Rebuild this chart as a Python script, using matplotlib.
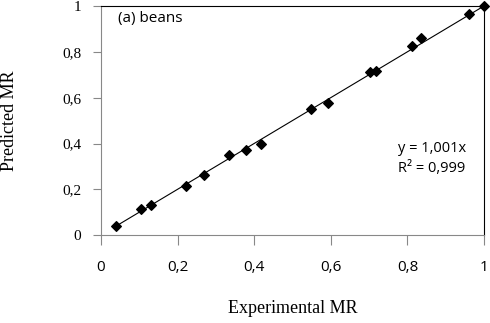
import matplotlib
matplotlib.use("Agg")
import matplotlib.pyplot as plt
import numpy as np

# experimental vs predicted moisture ratio
exp_mr = [0.04, 0.104, 0.13, 0.222, 0.269, 0.334, 0.379, 0.418, 0.548,
          0.593, 0.702, 0.718, 0.812, 0.836, 0.961, 1.0]
pred_mr = [0.04, 0.114, 0.131, 0.214, 0.262, 0.349, 0.371, 0.397, 0.550,
           0.576, 0.712, 0.716, 0.825, 0.860, 0.965, 1.0]
slope = 1.001
ticks = [0, 0.2, 0.4, 0.6, 0.8, 1]
tick_labels = ["0", "0,2", "0,4", "0,6", "0,8", "1"]

fig = plt.figure(figsize=(4.9, 3.23), dpi=100)
ax = fig.add_axes([0.206, 0.272, 0.782, 0.709])

xs = np.array([min(exp_mr), max(exp_mr)])
ax.plot(xs, slope * xs, color="black", lw=0.8, zorder=2)
ax.scatter(exp_mr, pred_mr, marker="D", s=24, color="black", zorder=3, clip_on=False)

ax.set_xlim(0, 1)
ax.set_ylim(0, 1)
ax.set_xticks(ticks)
ax.set_yticks(ticks)
ax.set_xticklabels(tick_labels, fontfamily="Open Sans", fontsize=11)
ax.set_yticklabels(tick_labels, fontfamily="Liberation Serif", fontsize=11)
ax.tick_params(axis="x", direction="out", length=7, color="#888888", pad=11)
ax.tick_params(axis="y", direction="out", length=6, color="#888888", pad=8)
ax.spines["left"].set_color("#888888")
ax.spines["bottom"].set_color("#888888")
ax.spines["top"].set_color("black")
ax.spines["right"].set_color("black")

ax.set_xlabel("Experimental MR", fontfamily="Liberation Serif", fontsize=13, labelpad=18)
ax.set_ylabel("Predicted MR", fontfamily="Liberation Serif", fontsize=13, labelpad=32)

ax.text(0.045, 0.945, "(a) beans", fontfamily="Open Sans", fontsize=11, va="center")
ax.text(0.775, 0.38, "y = 1,001x", fontfamily="Open Sans", fontsize=10.5, va="center")
ax.text(0.775, 0.29, "R² = 0,999", fontfamily="Open Sans", fontsize=10.5, va="center")

fig.savefig("out.png", dpi=100)
